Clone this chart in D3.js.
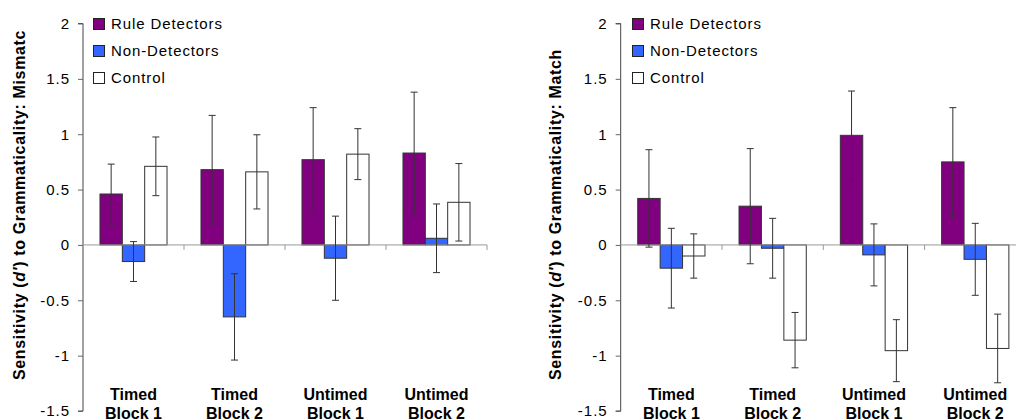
<!DOCTYPE html>
<html>
<head>
<meta charset="utf-8">
<script src="https://cdn.jsdelivr.net/npm/d3@7/dist/d3.min.js"></script>
<style>
  html, body { margin: 0; padding: 0; background: #fff; overflow: hidden; }
  svg { display: block; }
  text { font-family: "Liberation Sans", Arial, sans-serif; fill: #000; }
</style>
</head>
<body>
<svg id="chart" width="1016" height="419"></svg>
<script>
// ---- Data ----
const categories = ["Timed|Block 1", "Timed|Block 2", "Untimed|Block 1", "Untimed|Block 2"];
const seriesNames = ["Rule Detectors", "Non-Detectors", "Control"];
const seriesColors = ["#800080", "#3366FF", "#FFFFFF"];
const yTicks = [-1.5, -1, -0.5, 0, 0.5, 1, 1.5, 2];

// Left panel: Mismatch
const mismatchRule = [0.46, 0.68, 0.77, 0.83];
const mismatchRuleErr = [0.27, 0.49, 0.47, 0.55];
const mismatchNon = [-0.15, -0.65, -0.12, 0.06];
const mismatchNonErr = [0.18, 0.39, 0.38, 0.31];
const mismatchControl = [0.71, 0.66, 0.82, 0.385];
const mismatchControlErr = [0.265, 0.335, 0.23, 0.35];

// Right panel: Match
const matchRule = [0.42, 0.35, 0.99, 0.75];
const matchRuleErr = [0.44, 0.52, 0.40, 0.49];
const matchNon = [-0.21, -0.03, -0.09, -0.13];
const matchNonErr = [0.36, 0.27, 0.28, 0.325];
const matchControl = [-0.10, -0.86, -0.955, -0.935];
const matchControlErr = [0.20, 0.25, 0.28, 0.31];

const svg = d3.select("#chart");

function drawPanel(cfg) {
  const g = svg.append("g");
  const y = d3.scaleLinear().domain([-1.5, 2]).range([411, 23.5]);
  const x = d3.scaleBand().domain(categories).range([cfg.x0, cfg.x0 + 4 * cfg.step]).padding(0);
  const xs = d3.scaleBand().domain(seriesNames).range([0, x.bandwidth()]).paddingInner(0).paddingOuter(0.76);

  const values = [cfg.rule, cfg.non, cfg.control];
  const errs = [cfg.ruleErr, cfg.nonErr, cfg.controlErr];
  const rows = [];
  seriesNames.forEach((s, si) => {
    categories.forEach((c, ci) => {
      rows.push({ s, si, c, v: values[si][ci], e: errs[si][ci] });
    });
  });

  // Y axis
  const yAxis = d3.axisLeft(y).tickValues(yTicks).tickSize(5).tickPadding(8)
    .tickFormat(d => String(d));
  const ya = g.append("g").attr("transform", `translate(${cfg.x0},0)`).call(yAxis);
  ya.select(".domain").attr("stroke", "#444").attr("d", `M-5,${y(2)}H0V${y(-1.5)}H-5`);
  ya.selectAll(".tick line").attr("stroke", "#666");
  ya.selectAll(".tick text")
    .style("font-family", '"Liberation Sans", Arial, sans-serif')
    .style("font-size", "15px").style("letter-spacing", "1px").attr("fill", "#000");

  // Bars
  g.append("g").selectAll("rect").data(rows).join("rect")
    .attr("x", d => x(d.c) + xs(d.s))
    .attr("width", xs.bandwidth())
    .attr("y", d => Math.min(y(d.v), y(0)))
    .attr("height", d => Math.abs(y(d.v) - y(0)))
    .attr("fill", d => seriesColors[d.si])
    .attr("stroke", "#333").attr("stroke-width", 1);

  // Zero line (category axis) with ticks
  const xAxisG = g.append("g").attr("transform", `translate(0,${y(0)})`);
  xAxisG.append("line").attr("x1", cfg.x0).attr("x2", cfg.x0 + 4 * cfg.step)
    .attr("stroke", "#999").attr("stroke-width", 1);
  xAxisG.selectAll("line.tk").data(categories.slice(1).concat(["end"])).join("line")
    .attr("class", "tk")
    .attr("x1", (d, i) => cfg.x0 + (i + 1) * x.step())
    .attr("x2", (d, i) => cfg.x0 + (i + 1) * x.step())
    .attr("y1", 0).attr("y2", 5).attr("stroke", "#999");

  // Error bars
  const eg = g.append("g").attr("stroke", "#333").attr("stroke-width", 1).attr("fill", "none");
  rows.forEach(d => {
    const cx = x(d.c) + xs(d.s) + xs.bandwidth() / 2;
    const y1 = y(d.v + d.e), y2 = y(d.v - d.e);
    eg.append("line").attr("x1", cx).attr("x2", cx).attr("y1", y1).attr("y2", y2);
    eg.append("line").attr("x1", cx - 3.5).attr("x2", cx + 3.5).attr("y1", y1).attr("y2", y1);
    eg.append("line").attr("x1", cx - 3.5).attr("x2", cx + 3.5).attr("y1", y2).attr("y2", y2);
  });

  // Category labels
  const lab = g.append("g");
  categories.forEach(c => {
    const parts = c.split("|");
    const t = lab.append("text").attr("text-anchor", "middle")
      .style("font-size", "16px").style("font-weight", "bold");
    parts.forEach((p, i) => {
      t.append("tspan").attr("x", x(c) + x.bandwidth() / 2).attr("y", 399.5 + i * 19).text(p);
    });
  });

  // Legend
  const lg = g.append("g");
  seriesNames.forEach((s, i) => {
    lg.append("rect").attr("x", cfg.legX).attr("y", 18.5 + i * 27).attr("width", 11).attr("height", 11)
      .attr("fill", seriesColors[i]).attr("stroke", "#222").attr("stroke-width", 1);
    lg.append("text").attr("x", cfg.legX + 17.5).attr("y", 28.5 + i * 27)
      .style("font-size", "15px").style("letter-spacing", "0.9px").text(s);
  });

  // Y title
  const clipId = "clip" + cfg.id;
  svg.append("defs").append("clipPath").attr("id", clipId)
    .append("rect").attr("x", cfg.titleX - 20).attr("y", cfg.titleClipTop).attr("width", 40).attr("height", 400);
  g.append("g").attr("clip-path", `url(#${clipId})`)
    .append("text")
    .attr("transform", `translate(${cfg.titleX},380) rotate(-90)`)
    .attr("text-anchor", "start")
    .style("font-size", "16px").style("font-weight", "bold").style("letter-spacing", "0.65px")
    .html(cfg.titleHtml);
}

drawPanel({
  id: "L", x0: 83, step: 101, legX: 93.5, titleX: 25, titleClipTop: 31,
  rule: mismatchRule, ruleErr: mismatchRuleErr,
  non: mismatchNon, nonErr: mismatchNonErr,
  control: mismatchControl, controlErr: mismatchControlErr,
  titleHtml: "Sensitivity (<tspan font-style='italic'>d'</tspan>) to Grammaticality: Mismatch"
});

drawPanel({
  id: "R", x0: 620.7, step: 101.3, legX: 632.5, titleX: 561, titleClipTop: 0,
  rule: matchRule, ruleErr: matchRuleErr,
  non: matchNon, nonErr: matchNonErr,
  control: matchControl, controlErr: matchControlErr,
  titleHtml: "Sensitivity (<tspan font-style='italic'>d'</tspan>) to Grammaticality: Match"
});
</script>
</body>
</html>
